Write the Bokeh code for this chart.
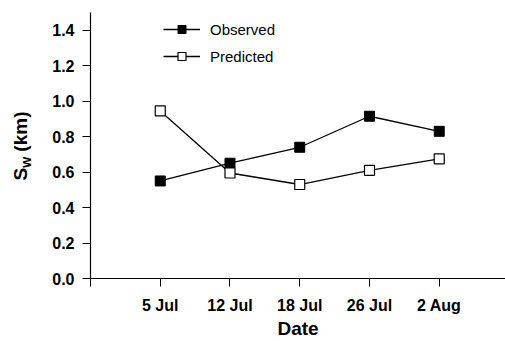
from bokeh.plotting import figure
from bokeh.models import (Range1d, FixedTicker, PrintfTickFormatter, Legend, LegendItem,
                          ColumnDataSource, Div)
from bokeh.layouts import row
from bokeh.embed import file_html
from bokeh.resources import INLINE

# ---- data ----
dates = ["5 Jul", "12 Jul", "18 Jul", "26 Jul", "2 Aug"]
observed = [0.55, 0.65, 0.74, 0.915, 0.83]
predicted = [0.945, 0.595, 0.53, 0.61, 0.675]
y_ticks = [0.0, 0.2, 0.4, 0.6, 0.8, 1.0, 1.2, 1.4]
series_names = ["Observed", "Predicted"]
x_title = "Date"

pos = list(range(1, len(dates) + 1))
src = ColumnDataSource(dict(x=pos, obs=observed, pred=predicted))

FONT = "Liberation Sans"
LEFT_W = 44

p = figure(width=505 - LEFT_W, height=341, output_backend="svg", toolbar_location=None,
           x_range=Range1d(0, 5.95), y_range=Range1d(0, 1.5),
           min_border_left=90 - LEFT_W, min_border_right=0, min_border_top=12,
           min_border_bottom=62)
p.outline_line_color = None
p.grid.visible = False
p.background_fill_color = "white"
p.border_fill_color = "white"

l_obs = p.line("x", "obs", source=src, line_color="black", line_width=1.3)
s_obs = p.scatter("x", "obs", source=src, marker="square", size=10,
                  fill_color="black", line_color="black", line_width=1)
l_pred = p.line("x", "pred", source=src, line_color="black", line_width=1.3)
s_pred = p.scatter("x", "pred", source=src, marker="square", size=10,
                   fill_color="white", line_color="black", line_width=1.2)

xa = p.xaxis[0]
xa.ticker = FixedTicker(ticks=[0] + pos)
xa.major_label_overrides = {0: ""}
xa.major_label_overrides.update({i: d for i, d in zip(pos, dates)})
xa.minor_tick_line_color = None
xa.major_tick_out = 8
xa.major_tick_in = 0
xa.major_label_standoff = 10
xa.major_label_text_font = FONT
xa.major_label_text_font_style = "bold"
xa.major_label_text_font_size = "16px"
xa.major_label_text_color = "black"
xa.axis_line_width = 1.2
xa.axis_line_color = "black"
xa.major_tick_line_color = "black"
xa.axis_label = x_title
xa.axis_label_text_font = FONT
xa.axis_label_text_font_style = "bold"
xa.axis_label_text_font_size = "19px"
xa.axis_label_text_color = "black"
xa.axis_label_standoff = 1

ya = p.yaxis[0]
ya.ticker = FixedTicker(ticks=y_ticks)
ya.formatter = PrintfTickFormatter(format="%.1f")
ya.minor_tick_line_color = None
ya.major_tick_out = 8
ya.major_tick_in = 0
ya.major_label_standoff = 8
ya.major_label_text_font = FONT
ya.major_label_text_font_style = "bold"
ya.major_label_text_font_size = "16px"
ya.major_label_text_color = "black"
ya.axis_line_width = 1.2
ya.axis_line_color = "black"
ya.major_tick_line_color = "black"

legend = Legend(items=[LegendItem(label=series_names[0], renderers=[l_obs, s_obs]),
                       LegendItem(label=series_names[1], renderers=[l_pred, s_pred])],
                location=(73, 212))
legend.glyph_width = 37
legend.glyph_height = 20
legend.label_height = 20
legend.spacing = 7
legend.padding = 0
legend.margin = 0
legend.label_standoff = 10
legend.label_text_font = FONT
legend.label_text_font_size = "15px"
legend.label_text_color = "black"
legend.border_line_alpha = 0
legend.background_fill_alpha = 0
p.add_layout(legend, "center")

# y-axis title with a real subscript, as HTML text beside the figure
ylab_html = (
    '<div style="position:relative;width:%dpx;height:341px;">'
    '<span style="position:absolute;left:21px;top:146px;'
    'transform:translate(-50%%,-50%%) rotate(-90deg);white-space:nowrap;'
    "font-family:'Liberation Sans';font-weight:bold;font-size:19px;line-height:19px;"
    'color:black;">S<span style="font-size:14px;position:relative;top:4px;">w</span>'
    '&nbsp;(km)</span></div>' % LEFT_W
)
ydiv = Div(text=ylab_html, width=LEFT_W, height=341, margin=(0, 0, 0, 0))

layout = row(ydiv, p, spacing=0)

open("out.html", "w").write(file_html(layout, INLINE))
